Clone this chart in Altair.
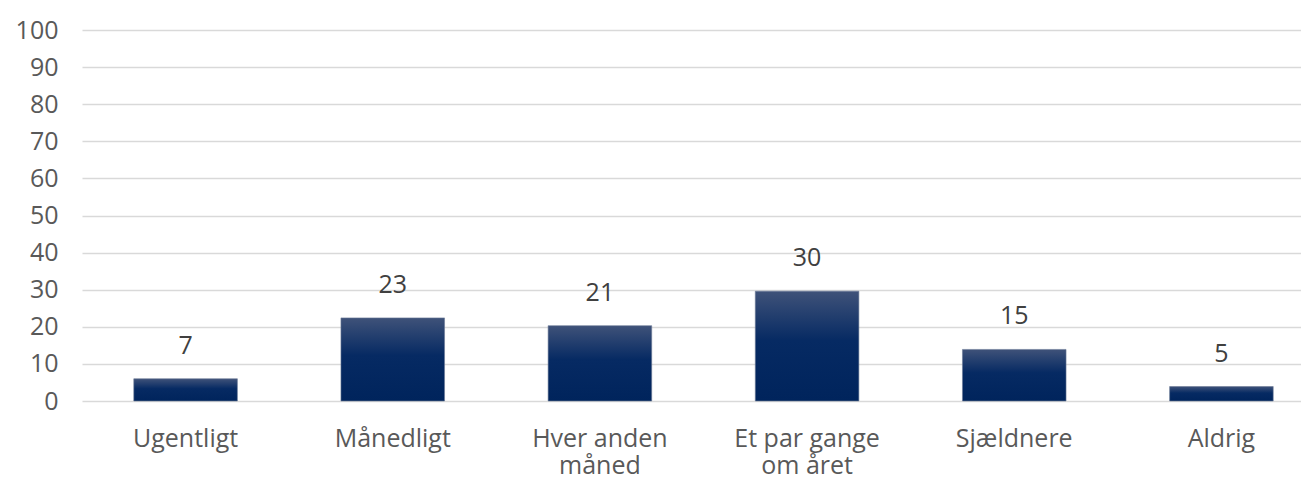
import altair as alt
import pandas as pd

categories = ["Ugentligt", "Månedligt", "Hver anden\nmåned", "Et par gange\nom året", "Sjældnere", "Aldrig"]
bar_values = [6.0, 22.4, 20.3, 29.6, 13.9, 3.9]
value_labels = ["7", "23", "21", "30", "15", "5"]
y_ticks = [0, 10, 20, 30, 40, 50, 60, 70, 80, 90, 100]

df = pd.DataFrame({"cat": categories, "val": bar_values, "lab": value_labels})

FONT = "Open Sans"
GRAY = "#595959"

x = alt.X("cat:N", sort=categories, title=None,
          scale=alt.Scale(range=[0, 1243], paddingInner=0.5, paddingOuter=0.25),
          axis=alt.Axis(labelAngle=0, domain=False, ticks=False, grid=False,
                        labelFont=FONT, labelFontSize=25, labelColor=GRAY,
                        labelPadding=25, labelLineHeight=27,
                        labelOverlap=False,
                        labelExpr="split(datum.label, '\\n')"))
y = alt.Y("val:Q", title=None,
          scale=alt.Scale(domain=[0, 100], nice=False),
          axis=alt.Axis(values=y_ticks, tickCount=11, domain=False, ticks=False,
                        gridColor="#d9d9d9", gridWidth=1.5,
                        labelFont=FONT, labelFontSize=25, labelColor=GRAY,
                        labelOverlap=False, labelPadding=24))

bars = alt.Chart(df).mark_bar(
    color=alt.Gradient(
        gradient="linear",
        x1=0, y1=0, x2=0, y2=1,
        stops=[alt.GradientStop(offset=0, color="#3f5279"),
               alt.GradientStop(offset=0.45, color="#062a63"),
               alt.GradientStop(offset=1, color="#00245c")],
    ),
    stroke="#6a7896", strokeWidth=0.6,
).encode(x=x, y=y)

texts = alt.Chart(df).mark_text(
    font=FONT, fontSize=25, color="#404040", baseline="middle", dy=-33
).encode(x=x, y=y, text="lab:N")

chart = (bars + texts).properties(
    width=1219, height=371,
    padding={"left": 74, "top": 22, "right": 0, "bottom": 78},
    autosize="none",
).configure_view(stroke=None)

chart.save("out.html", embed_options={"renderer": "svg", "actions": False})
